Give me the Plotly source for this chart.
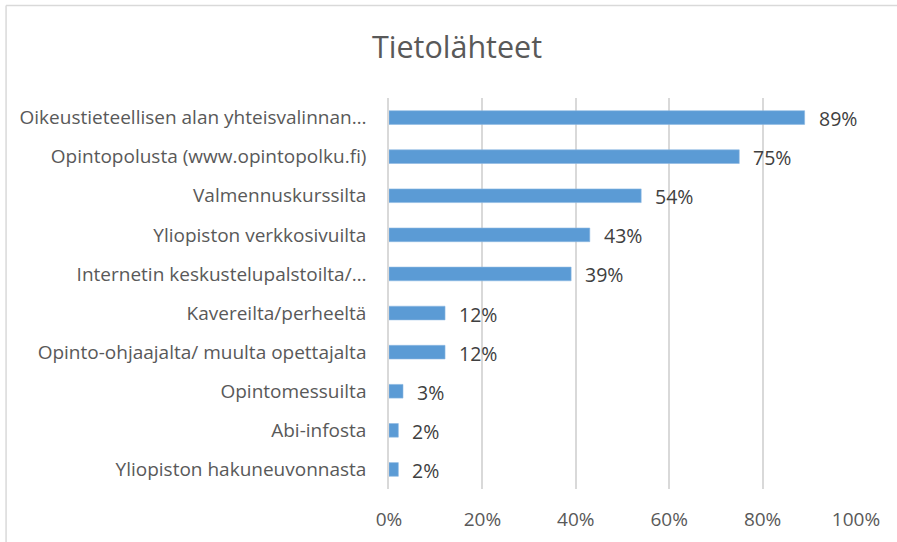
import plotly.graph_objects as go

categories = [
    "Oikeustieteellisen alan yhteisvalinnan…",
    "Opintopolusta (www.opintopolku.fi)",
    "Valmennuskurssilta",
    "Yliopiston verkkosivuilta",
    "Internetin keskustelupalstoilta/…",
    "Kavereilta/perheeltä",
    "Opinto-ohjaajalta/ muulta opettajalta",
    "Opintomessuilta",
    "Abi-infosta",
    "Yliopiston hakuneuvonnasta",
]
values = [89, 75, 54, 43, 39, 12, 12, 3, 2, 2]
x_ticks = [0, 20, 40, 60, 80, 100]
x_tick_labels = ["0%", "20%", "40%", "60%", "80%", "100%"]
title_text = "Tietolähteet"

FONT = "Open Sans"
BAR = "#5B9BD5"
GRID = "#D9D9D9"

fig = go.Figure()
fig.add_trace(go.Bar(
    x=values, y=categories, orientation="h",
    marker=dict(color=BAR, line=dict(color="#8DB8E3", width=0.6)),
    hoverinfo="x+y",
))

for c, v in zip(categories, values):
    fig.add_annotation(
        x=v, y=c, xref="x", yref="y", text=f"{v}%", showarrow=False,
        xanchor="left", yanchor="middle", xshift=12, yshift=-1,
        font=dict(family=FONT, size=19.5, color="#404040"),
    )

# outer chart border (top and left edges visible)
fig.add_shape(type="line", xref="paper", yref="paper",
              x0=-0.820, x1=1.2, y0=1.2366, y1=1.2366,
              line=dict(color=GRID, width=1.5))
fig.add_shape(type="line", xref="paper", yref="paper",
              x0=-0.820, x1=-0.820, y0=-0.3, y1=1.2366,
              line=dict(color=GRID, width=1.5))

fig.update_layout(
    width=897, height=542,
    margin=dict(l=389, r=41, t=98, b=53, autoexpand=False),
    paper_bgcolor="white", plot_bgcolor="white",
    bargap=0.65,
    showlegend=False,
    title=dict(text=title_text, x=457 / 897, xref="container", xanchor="center",
               y=1 - 47 / 542, yref="container", yanchor="middle",
               font=dict(family=FONT, size=30.5, color="#595959")),
    font=dict(family=FONT, color="#595959"),
)

fig.update_xaxes(
    range=[0, 100], tickvals=x_ticks, ticktext=x_tick_labels,
    showgrid=True, gridcolor=GRID, gridwidth=1.5,
    zeroline=False, showline=False,
    ticks="", ticklabelstandoff=17,
    tickfont=dict(family=FONT, size=19, color="#595959"),
    fixedrange=True,
)
fig.update_yaxes(
    autorange="reversed", showgrid=False,
    showline=True, linecolor=GRID, linewidth=1.5,
    ticks="", ticklabelstandoff=17,
    tickfont=dict(family=FONT, size=19, color="#595959"),
    fixedrange=True,
)

fig.write_html(
    "out.html",
    config={"displayModeBar": False},
    post_script="document.body.style.margin='0';document.body.style.overflow='hidden';",
)
